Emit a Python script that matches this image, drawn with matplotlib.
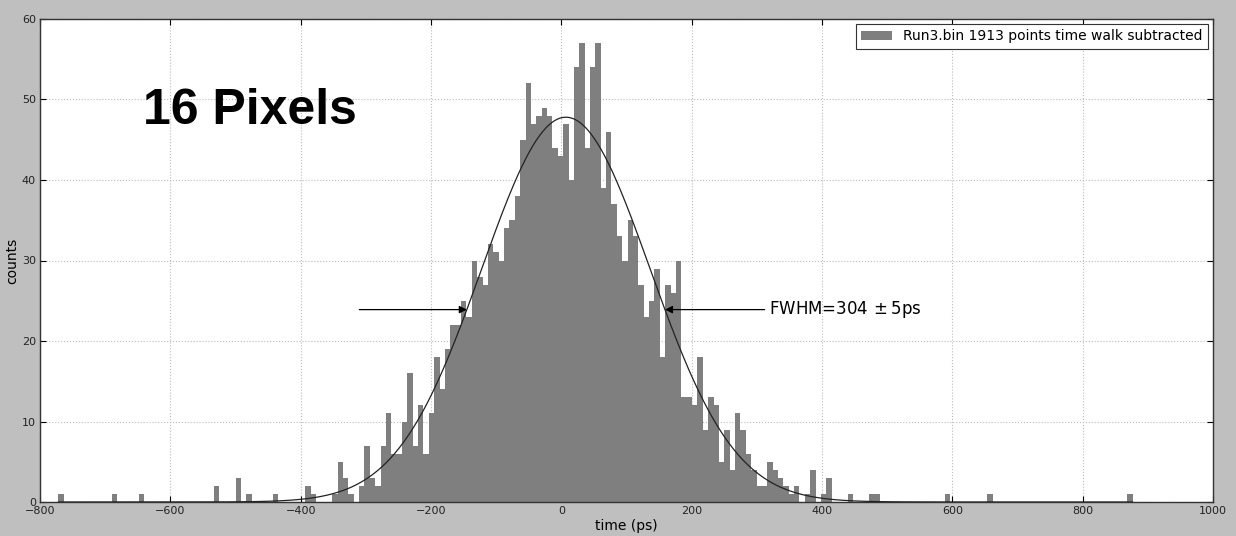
import numpy as np
import matplotlib
matplotlib.use('Agg')
import matplotlib.pyplot as plt

# histogram binning (200 bins between data min and max)
BIN_LO = -772.0
BIN_HI = 876.5
N_BINS = 200

# counts of the dense part, starting at bin index CORE_START
CORE_START = 46
core_counts = [
    2, 1, 0, 0, 0, 1, 5, 3, 1, 0,
    2, 7, 3, 2, 7, 11, 6, 6, 10, 16,
    7, 12, 6, 11, 18, 14, 19, 22, 22, 25,
    23, 30, 28, 27, 32, 31, 30, 34, 35, 38,
    45, 52, 47, 48, 49, 48, 44, 43, 47, 40,
    54, 57, 44, 54, 57, 39, 46, 37, 33, 30,
    35, 33, 27, 23, 25, 29, 18, 27, 26, 30,
    13, 13, 12, 18, 9, 13, 12, 5, 9, 4,
    11, 9, 6, 4, 2, 2, 5, 4, 3, 2,
    1, 2, 0, 1, 4, 0, 1, 3,
]

# isolated outliers in the tails
tail_bins = [0, 10, 15, 29, 33, 35, 40, 147, 151, 152, 165, 173, 199]
tail_counts = [1, 1, 1, 2, 3, 1, 1, 1, 1, 1, 1, 1, 1]

# gaussian fit
fit_amp = 47.8
fit_mean = 7.0
fit_fwhm = 304.0

legend_label = 'Run3.bin 1913 points time walk subtracted'
fwhm_text = r'FWHM=304$\,\pm$5ps'

edges = np.linspace(BIN_LO, BIN_HI, N_BINS + 1)
counts = np.zeros(N_BINS)
counts[CORE_START:CORE_START + len(core_counts)] = core_counts
counts[tail_bins] = tail_counts

W, H = 1236, 536
fig = plt.figure(figsize=(W / 100, H / 100), dpi=100, facecolor='#bfbfbf')
ax = fig.add_axes([40 / W, 34 / H, 1173 / W, 483 / H])
ax.set_facecolor('white')

ax.hist(edges[:-1], bins=edges, weights=counts, histtype='stepfilled',
        color='#7f7f7f', linewidth=0, label=legend_label, zorder=2)

sigma = fit_fwhm / (2 * np.sqrt(2 * np.log(2)))
xf = np.linspace(BIN_LO, BIN_HI, 1000)
yf = fit_amp * np.exp(-(xf - fit_mean) ** 2 / (2 * sigma ** 2))
ax.plot(xf, yf, color='#222222', lw=0.9, zorder=3)

half = fit_amp / 2
left_tip = fit_mean - fit_fwhm / 2
right_tip = fit_mean + fit_fwhm / 2
arrow = dict(arrowstyle='-|>', color='black', lw=0.9, mutation_scale=11,
             shrinkA=0, shrinkB=0)
ax.annotate('', xy=(left_tip, half), xytext=(-310, half), arrowprops=arrow, zorder=4)
ax.annotate('', xy=(right_tip, half), xytext=(312, half), arrowprops=arrow, zorder=4)
ax.text(318, half, fwhm_text, fontsize=12, va='center', ha='left')

ax.text(0.088, 0.782, '16 Pixels', transform=ax.transAxes, fontsize=36,
        fontweight='bold', family='Liberation Sans', va='baseline')

ax.set_xlim(-800, 1000)
ax.set_ylim(0, 60)
ax.set_xticks(np.arange(-800, 1001, 200))
ax.set_yticks(np.arange(0, 61, 10))
ax.tick_params(direction='in', top=True, right=True, length=4, labelsize=8,
               pad=3, labelcolor='#222222')
ax.grid(True, linestyle=':', color='#bbbbbb', linewidth=0.8, zorder=0)
ax.set_axisbelow(True)
for s in ax.spines.values():
    s.set_linewidth(1.0)
    s.set_color('#333333')

ax.set_xlabel('time (ps)', fontsize=10, labelpad=2)
ax.set_ylabel('counts', fontsize=10, labelpad=2)

leg = ax.legend(loc='upper right', fontsize=10, fancybox=False, framealpha=1,
                borderaxespad=0.35, handlelength=2.2)
leg.get_frame().set_edgecolor('#333333')
leg.get_frame().set_linewidth(0.8)

fig.savefig('out.png', dpi=100, facecolor=fig.get_facecolor())
